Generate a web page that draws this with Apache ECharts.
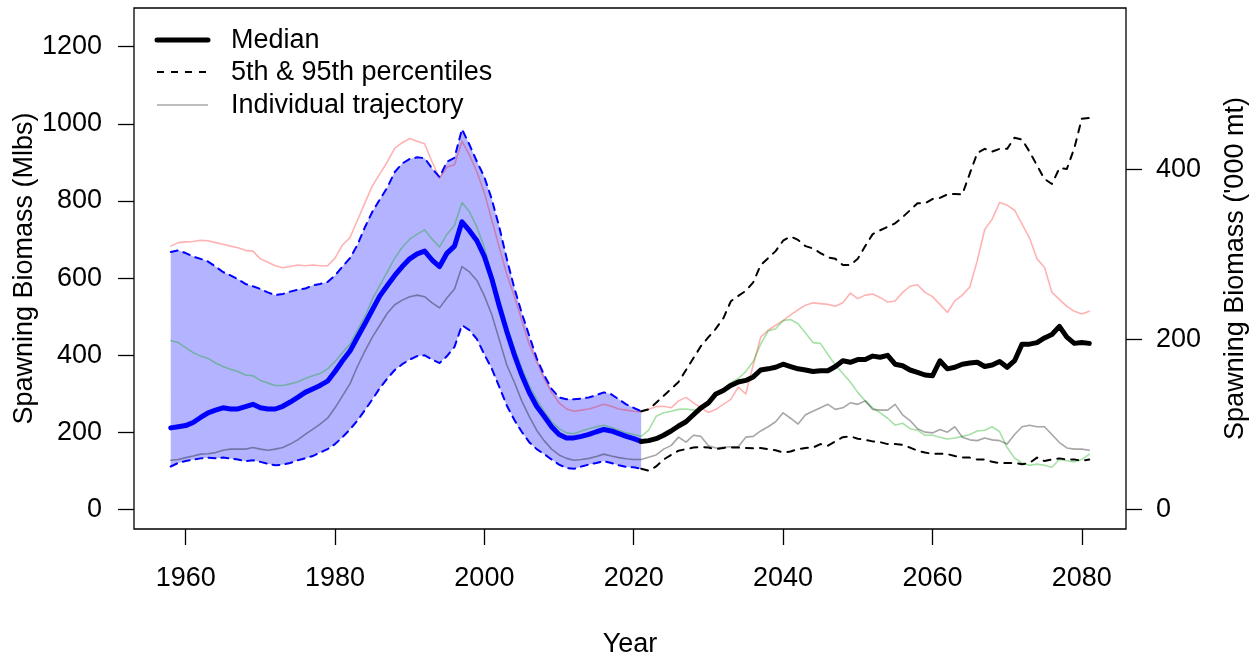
<!DOCTYPE html>
<html><head><meta charset="utf-8">
<script src="https://cdn.jsdelivr.net/npm/echarts@6/dist/echarts.min.js"></script>
<style>html,body{margin:0;padding:0;background:#fff}#chart{width:1252px;height:655px}</style>
</head><body><div id="chart"></div>
<script>
// ---------- axes / ticks ----------
const histStartYear = 1958;   // historical period 1958-2021
const projStartYear = 2021;   // projection period 2021-2081
const xTicks = [1960, 1980, 2000, 2020, 2040, 2060, 2080];
const leftTicks = [0, 200, 400, 600, 800, 1000, 1200];   // Mlbs
const rightTicks = [0, 200, 400];                        // '000 mt
const MLBS_PER_KMT = 2.20462;
const legendLabels = ['Median', '5th & 95th percentiles', 'Individual trajectory'];

// ---------- historical (1958-2021), Mlbs ----------
const medianHist = [212,215,218,226,239,251,258,264,261,261,
  267,273,264,261,261,268,279,291,304,313,
  322,333,358,386,411,447,482,518,554,581,
  607,630,650,663,670,647,630,665,683,746,
  723,697,656,598,527,462,402,349,304,268,
  242,215,195,186,186,190,195,202,208,204,
  197,190,184,177];
const upperHist = [668,672,665,656,650,643,630,616,607,597,
  585,579,572,563,556,559,565,570,573,581,
  585,590,607,630,652,686,732,772,804,835,
  875,897,909,913,911,884,862,902,912,986,
  946,902,862,804,732,650,575,510,451,393,
  349,313,291,286,286,288,291,297,304,299,
  286,273,264,255];
const lowerHist = [112,121,126,130,133,135,133,135,133,130,
  126,128,124,119,115,117,121,128,133,139,
  148,157,170,188,208,231,258,286,315,340,
  362,377,389,398,400,389,380,398,422,478,
  465,442,402,365,318,270,233,202,175,157,
  144,130,117,108,106,112,117,121,126,121,
  115,111,110,106];
const redHist = [683,692,694,695,698,697,692,688,683,679,
  672,670,650,641,632,627,630,634,632,634,
  632,632,652,686,705,750,795,839,870,901,
  937,951,962,955,948,901,859,888,894,955,
  919,875,821,750,679,610,554,491,429,384,
  340,304,277,261,255,258,261,267,273,268,
  261,258,255,253];
const greenHist = [438,433,420,407,398,392,380,371,364,358,
  349,347,335,328,322,322,326,331,340,347,
  353,365,384,407,429,465,500,545,581,616,
  652,680,701,714,725,701,681,714,737,796,
  772,732,679,610,545,475,420,367,322,286,
  255,228,210,199,197,204,210,215,219,213,
  206,199,195,190];
const greyHist = [128,130,135,139,144,145,148,154,157,157,
  157,161,157,154,157,161,170,181,195,208,
  222,237,264,295,326,371,411,447,478,509,
  531,543,552,556,552,536,523,549,572,630,
  616,594,554,505,440,375,331,282,242,206,
  179,157,142,133,128,130,133,138,144,139,
  135,132,130,130];

// ---------- projection (2021-2081), Mlbs ----------
const medianProj = [177,179,184,193,204,217,228,246,264,277,
  300,309,322,331,335,344,362,365,369,377,
  371,365,362,358,360,360,371,386,382,389,
  389,398,395,400,377,373,362,356,349,347,
  386,365,369,377,380,382,371,375,384,369,
  386,429,429,433,445,454,475,447,431,433,
  431];
const upperProj = [255,260,277,295,313,331,362,393,424,447,
  469,496,540,554,567,589,634,652,670,697,
  708,699,683,677,665,654,650,634,634,650,
  683,714,724,733,742,758,776,794,794,805,
  808,817,818,817,871,924,935,928,935,935,
  964,959,928,892,857,844,885,883,937,1013,
  1015];
const lowerProj = [106,101,112,130,142,153,157,161,163,161,
  157,160,161,161,160,159,160,157,154,148,
  151,157,160,161,170,166,177,188,190,184,
  181,177,175,170,170,168,161,153,148,145,
  145,144,139,135,135,130,130,124,121,121,
  121,118,121,135,126,130,133,130,130,127,
  130];
const redProj = [253,260,267,268,264,282,291,277,264,252,
  260,273,286,318,300,375,447,465,478,490,
  505,518,530,536,534,532,527,536,561,547,
  556,559,550,538,541,563,579,583,563,552,
  532,511,541,556,577,645,726,753,796,789,
  776,740,704,650,628,563,545,527,514,507,
  514];
const greenProj = [190,206,242,251,255,260,261,258,260,273,
  295,313,329,340,358,384,429,463,469,490,
  493,482,458,433,431,402,375,353,331,304,
  282,264,251,237,219,224,210,206,193,193,
  188,183,186,190,195,204,206,215,202,161,
  134,121,115,118,115,110,130,127,124,130,
  144];
const greyProj = [130,136,142,157,166,188,175,193,190,166,
  160,162,163,163,188,190,204,215,228,251,
  237,222,246,255,264,273,260,264,277,273,
  282,260,258,258,273,246,231,210,201,199,
  208,201,215,188,181,179,186,181,179,170,
  195,215,219,215,215,195,174,160,157,157,
  154];

// ---------- helpers ----------
function pairs(start, arr) { return arr.map((v, i) => [start + i, v]); }
function joined(h, p) { return pairs(histStartYear, h).concat(pairs(projStartYear, p).slice(1)); }

const FONT = 'Liberation Sans, Arial, sans-serif';
const FS = 27;
const yMin = -50, yMax = 1300;

const chart = echarts.init(document.getElementById('chart'), null, {renderer: 'canvas'});
const tickStyle = {color: '#000', width: 1.3};
const labelStyle = {fontSize: FS, color: '#000', fontFamily: FONT, formatter: v => String(v)};
const nameStyle = {fontSize: FS, color: '#000', fontFamily: FONT};

const RED = 'rgba(255,0,0,0.3)', GREEN = 'rgba(0,170,0,0.35)', GREY = 'rgba(0,0,0,0.35)';

function line(name, data, color, width, type, z) {
  return {
    name, type: 'line', data, symbol: 'none', z: z, silent: true,
    lineStyle: {color, width, type: type || 'solid', cap: 'round', join: 'round'},
    itemStyle: {color}
  };
}

// band polygon drawn through the axes' own coordinate mapping
const bandSeries = {
  type: 'custom', name: 'band', z: 1, silent: true, clip: true,
  data: lowerHist.map((v, i) => [histStartYear + i, v, upperHist[i]]),
  encode: {x: 0, y: [1, 2]},
  renderItem: function (params, api) {
    if (params.dataIndex !== 0) return null;
    const pts = [];
    for (let i = 0; i < upperHist.length; i++) pts.push(api.coord([histStartYear + i, upperHist[i]]));
    for (let i = lowerHist.length - 1; i >= 0; i--) pts.push(api.coord([histStartYear + i, lowerHist[i]]));
    return {type: 'polygon', shape: {points: pts}, style: {fill: '#B3B3FF', stroke: null}};
  }
};

// legend drawn as graphic keys + real text
const legendX1 = 157, legendX2 = 208, legendTextX = 231, legendRows = [40, 72, 105];
const legendKeys = [
  {stroke: '#000', lineWidth: 5, lineCap: 'round'},
  {stroke: '#000', lineWidth: 2, lineDash: [7, 7]},
  {stroke: GREY, lineWidth: 1.6}
];
const graphic = [];
legendLabels.forEach((lab, i) => {
  graphic.push({type: 'line', silent: true, shape: {x1: legendX1, y1: legendRows[i], x2: legendX2, y2: legendRows[i]}, style: legendKeys[i]});
  graphic.push({type: 'text', silent: true, x: legendTextX, y: legendRows[i] + 1,
    style: {text: lab, font: FS + 'px ' + FONT, fill: '#000', verticalAlign: 'middle', align: 'left'}});
});

const option = {
  animation: false,
  backgroundColor: '#fff',
  grid: {left: 134, right: 126, top: 8, bottom: 126, show: true, borderColor: '#000', borderWidth: 1.3,
    backgroundColor: 'transparent', containLabel: false, outerBoundsMode: 'none'},
  graphic: graphic,
  xAxis: {
    type: 'value', min: 1953.08, max: 2085.92,
    axisLine: {show: false, onZero: false},
    axisTick: {show: true, customValues: xTicks, length: 16, lineStyle: tickStyle},
    axisLabel: Object.assign({customValues: xTicks, margin: 36}, labelStyle),
    splitLine: {show: false},
    name: 'Year', nameLocation: 'middle', nameGap: 102, nameMoveOverlap: false, nameTextStyle: nameStyle
  },
  yAxis: [{
    type: 'value', min: yMin, max: yMax, position: 'left',
    axisLine: {show: false, onZero: false},
    axisTick: {show: true, customValues: leftTicks, length: 16, lineStyle: tickStyle},
    axisLabel: Object.assign({customValues: leftTicks, margin: 32}, labelStyle),
    splitLine: {show: false},
    name: 'Spawning Biomass (Mlbs)', nameLocation: 'middle', nameRotate: 90, nameGap: 96,
    nameMoveOverlap: false, nameTextStyle: nameStyle
  }, {
    type: 'value', min: yMin / MLBS_PER_KMT, max: yMax / MLBS_PER_KMT, position: 'right',
    axisLine: {show: false, onZero: false},
    axisTick: {show: true, customValues: rightTicks, length: 16, lineStyle: tickStyle},
    axisLabel: Object.assign({customValues: rightTicks, margin: 30}, labelStyle),
    splitLine: {show: false},
    name: "Spawning Biomass ('000 mt)", nameLocation: 'middle', nameRotate: 90, nameGap: 96,
    nameMoveOverlap: false, nameTextStyle: nameStyle
  }],
  series: [
    bandSeries,
    line('Trajectory A', joined(redHist, redProj), RED, 1.6, 'solid', 2),
    line('Trajectory B', joined(greenHist, greenProj), GREEN, 1.6, 'solid', 2),
    line('Individual trajectory', joined(greyHist, greyProj), GREY, 1.6, 'solid', 2),
    line('upperHist', pairs(histStartYear, upperHist), '#0000FF', 2, [7, 6], 3),
    line('lowerHist', pairs(histStartYear, lowerHist), '#0000FF', 2, [7, 6], 3),
    line('medianHist', pairs(histStartYear, medianHist), '#0000FF', 5, 'solid', 4),
    line('5th & 95th percentiles', pairs(projStartYear, upperProj), '#000', 2, [7, 7], 3),
    line('5th & 95th percentiles', pairs(projStartYear, lowerProj), '#000', 2, [7, 7], 3),
    line('Median', pairs(projStartYear, medianProj), '#000', 5, 'solid', 4)
  ]
};
chart.setOption(option);
</script></body></html>
